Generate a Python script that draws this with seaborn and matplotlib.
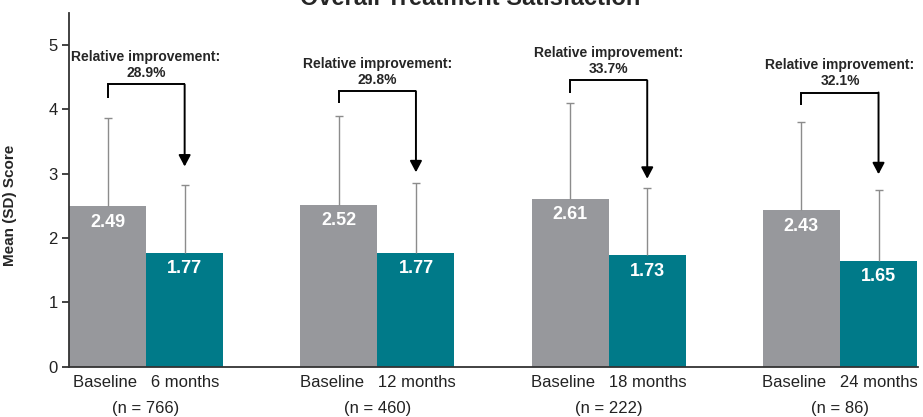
import matplotlib
matplotlib.use("Agg")
import matplotlib.pyplot as plt
import numpy as np
import pandas as pd
import seaborn as sns

# ---- data -------------------------------------------------------------
followups = ["6 months", "12 months", "18 months", "24 months"]
sample_sizes = [766, 460, 222, 86]
baseline_mean = [2.49, 2.52, 2.61, 2.43]
followup_mean = [1.77, 1.77, 1.73, 1.65]
baseline_sd = [1.37, 1.37, 1.48, 1.37]
followup_sd = [1.06, 1.09, 1.04, 1.09]
improvement_pct = [28.9, 29.8, 33.7, 32.1]

# bracket geometry for the improvement annotations (score units)
bracket_top = [4.385, 4.28, 4.45, 4.26]
bracket_left_end = [4.18, 4.09, 4.26, 4.06]
arrow_tip = [3.11, 3.02, 2.92, 2.99]

GRAY = "#97989c"
TEAL = "#007a89"
ERR = "#8c8c8c"

sns.set_style("ticks")
plt.rcParams["font.family"] = ["Liberation Sans", "DejaVu Sans"]

group_labels = [f"Baseline   {fu}\n(n = {n})" for fu, n in zip(followups, sample_sizes)]
df = pd.DataFrame({
    "group": group_labels * 2,
    "period": ["Baseline"] * 4 + ["Follow-up"] * 4,
    "score": baseline_mean + followup_mean,
    "sd": baseline_sd + followup_sd,
})

fig = plt.figure(figsize=(9.23, 4.17), dpi=100)
ax = fig.add_axes([69 / 923, 50.3 / 417, 849 / 923, 354 / 417])

sns.barplot(data=df, x="group", y="score", hue="period", order=group_labels,
            palette=[GRAY, TEAL], width=2 / 3, dodge=True, errorbar=None,
            saturation=1, legend=False, linewidth=0, ax=ax)

centers = []
for cont, means, sds in zip(ax.containers, [baseline_mean, followup_mean],
                            [baseline_sd, followup_sd]):
    xs = np.array([p.get_x() + p.get_width() / 2 for p in cont.patches])
    tops = np.array(means) + np.array(sds)
    centers.append(xs)
    # upper-only SD whiskers with a small cap at the top
    ax.vlines(xs, means, tops, color=ERR, lw=1.0, zorder=3)
    ax.plot(xs, tops, ls="none", marker="_", markersize=6, markeredgewidth=1.0,
            color=ERR, zorder=3)
    for x, m in zip(xs, means):
        ax.annotate(f"{m:.2f}", xy=(x, m), xytext=(0, -11.5), textcoords="offset points",
                    ha="center", va="center", color="white", fontsize=13,
                    fontweight="bold", zorder=4)

# improvement brackets with arrows
for i in range(len(followups)):
    xl, xr = centers[0][i], centers[1][i]
    ax.plot([xl, xl, xr], [bracket_left_end[i], bracket_top[i], bracket_top[i]],
            color="black", lw=1.4, solid_joinstyle="miter", solid_capstyle="butt", zorder=5)
    ax.annotate("", xy=(xr, arrow_tip[i]), xytext=(xr, bracket_top[i]),
                arrowprops=dict(arrowstyle="-|>,head_width=0.36,head_length=0.68",
                                mutation_scale=10, color="black", lw=1.4,
                                shrinkA=0, shrinkB=0), zorder=5)
    ax.annotate(f"Relative improvement:\n{improvement_pct[i]:.1f}%",
                xy=((xl + xr) / 2, bracket_top[i]), xytext=(0, 3),
                textcoords="offset points", ha="center", va="bottom",
                fontsize=10, fontweight="bold", linespacing=1.2)

ax.set_ylim(0, 5.5)
ax.set_xlim(-1 / 3, 3 + 1 / 3 + 0.004)
ax.set_yticks(range(0, 6))
ax.set_xlabel("")
ax.set_ylabel("Mean (SD) Score", fontsize=11, fontweight="bold")
ax.yaxis.set_label_coords(-0.061, 0.455)

ax.tick_params(axis="y", labelsize=12, length=5, width=1.2, pad=3, colors="#222222")
ax.tick_params(axis="x", labelsize=12, length=0, pad=6, colors="#222222")
for lab in ax.get_xticklabels():
    lab.set_linespacing(1.95)

sns.despine(ax=ax)
for side in ("left", "bottom"):
    ax.spines[side].set_color("#333333")
    ax.spines[side].set_linewidth(1.3)

fig.text(470 / 923, 0.987, "Overall Treatment Satisfaction", ha="center", va="baseline",
         fontsize=17, fontweight="bold")

fig.savefig("out.png", dpi=100)
